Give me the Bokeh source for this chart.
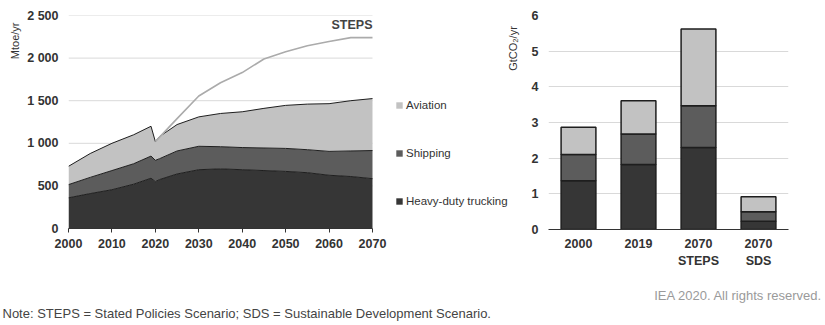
import math
from bokeh.plotting import figure
from bokeh.layouts import column, row
from bokeh.models import (ColumnDataSource, Label, Legend, LegendItem, FixedTicker,
                          FactorRange, Range1d, Title)
from bokeh.embed import file_html
from bokeh.resources import INLINE

# ---------------- data ----------------
years = [2000, 2005, 2010, 2015, 2019, 2020, 2021, 2025, 2030, 2035, 2040,
         2045, 2050, 2055, 2060, 2065, 2070]
trucking = [360, 410, 455, 520, 590, 550, 575, 640, 690, 700, 690, 680, 670, 655, 625, 610, 585]
shipping = [155, 190, 225, 240, 260, 250, 245, 270, 275, 260, 260, 265, 270, 270, 280, 300, 330]
aviation = [215, 280, 320, 340, 350, 220, 260, 310, 345, 390, 420, 465, 505, 535, 560, 590, 610]

steps_years = [2020, 2025, 2030, 2035, 2040, 2045, 2050, 2055, 2060, 2065, 2070]
steps_total = [1020, 1290, 1555, 1710, 1830, 1990, 2075, 2145, 2195, 2240, 2240]

y_ticks_left = [0, 500, 1000, 1500, 2000, 2500]
y_tick_labels_left = ["0", "500", "1 000", "1 500", "2 000", "2 500"]
x_ticks_left = [2000, 2010, 2020, 2030, 2040, 2050, 2060, 2070]

bar_years = ["2000", "2019", "2070", "2070"]
bar_scen = ["", "", "STEPS", "SDS"]
bar_trucking = [1.37, 1.82, 2.30, 0.23]
bar_shipping = [0.73, 0.86, 1.17, 0.27]
bar_aviation = [0.77, 0.93, 2.15, 0.42]
y_ticks_right = [0, 1, 2, 3, 4, 5, 6]

# ---------------- style ----------------
FONT = "Liberation Sans"
C_TRUCK = "#363636"
C_SHIP = "#5c5c5c"
C_AVI = "#c2c2c2"
C_EDGE = "#1e1e1e"
C_GRID = "#d9d9d9"
C_TEXT = "#333333"

# ---------------- left chart ----------------
src = ColumnDataSource(dict(year=years, truck=trucking, ship=shipping, avi=aviation))
cum1 = trucking
cum2 = [a + b for a, b in zip(trucking, shipping)]
cum3 = [a + b + c for a, b, c in zip(trucking, shipping, aviation)]
src_lines = ColumnDataSource(dict(year=years, c1=cum1, c2=cum2, c3=cum3))

# the frame extends to the right of 2070 so that legend / unit label can sit inside it
FW = 457
x_end = years[0] + (years[-1] - years[0]) * FW / 304
left = figure(frame_width=FW, frame_height=213, min_border_left=68, min_border_right=0,
              min_border_top=13, min_border_bottom=59,
              x_range=Range1d(years[0], x_end), y_range=Range1d(0, 2500),
              output_backend="svg", toolbar_location=None)
left.outline_line_color = None

left.segment(x0=years[0], x1=years[-1], y0=y_ticks_left, y1=y_ticks_left,
             line_color=C_GRID, line_width=1)
areas = left.varea_stack(["truck", "ship", "avi"], x="year", source=src,
                         fill_color=[C_TRUCK, C_SHIP, C_AVI])
for col in ["c1", "c2", "c3"]:
    left.line("year", col, source=src_lines, line_color=C_EDGE, line_width=1)
left.line(steps_years, steps_total, line_color="#ababab", line_width=1.6)

left.grid.grid_line_color = None
left.yaxis.ticker = FixedTicker(ticks=y_ticks_left)
left.yaxis.major_label_overrides = {t: l for t, l in zip(y_ticks_left, y_tick_labels_left)}
left.yaxis.axis_line_color = None
left.yaxis.major_tick_line_color = None
left.yaxis.major_tick_out = 0
left.yaxis.minor_tick_line_color = None
left.xaxis.ticker = FixedTicker(ticks=x_ticks_left)
left.xaxis.bounds = (years[0], years[-1])
left.xaxis.axis_line_color = "#333333"
left.xaxis.major_tick_line_color = "#333333"
left.xaxis.major_tick_in = 0
left.xaxis.major_tick_out = 4
left.xaxis.minor_tick_line_color = None
for ax in (left.xaxis[0], left.yaxis[0]):
    ax.major_label_text_font = FONT
    ax.major_label_text_font_size = "12.5px"
    ax.major_label_text_color = C_TEXT
    ax.major_label_text_font_style = "bold"
left.yaxis.major_label_standoff = 10
left.xaxis.major_label_standoff = 6

left.add_layout(Title(text="Mtoe/yr", align="right", offset=7, standoff=7,
                      text_font=FONT, text_font_size="11px", text_font_style="normal",
                      text_color=C_TEXT), "left")
left.add_layout(Label(x=years[-1], y=2383, text="STEPS", text_align="right",
                      text_baseline="middle", text_font=FONT, text_font_size="12.5px",
                      text_font_style="bold", text_color="#444444"))
# unit label of the right-hand chart (sits in the gap between the two charts)
left.add_layout(Label(x=years[0] + (512 - 68) * 70 / 304, y=2113, text="GtCO\u2082/yr",
                      angle=math.pi / 2, text_align="center", text_baseline="middle",
                      text_font=FONT, text_font_size="11px", text_color=C_TEXT))

legend = Legend(items=[LegendItem(label="Aviation", renderers=[areas[2]]),
                       LegendItem(label="Shipping", renderers=[areas[1]]),
                       LegendItem(label="Heavy-duty trucking", renderers=[areas[0]])],
                location=(327, 20), margin=0, padding=0, spacing=34,
                label_height=14, glyph_height=8, glyph_width=8, label_standoff=3,
                label_text_font=FONT, label_text_font_size="11.5px",
                label_text_color=C_TEXT, border_line_color=None,
                background_fill_alpha=0)
left.add_layout(legend, "center")

# ---------------- right chart ----------------
factors = list(zip(bar_scen, bar_years))
bsrc = ColumnDataSource(dict(cat=factors, truck=bar_trucking, ship=bar_shipping,
                             avi=bar_aviation))
right = figure(frame_width=240, frame_height=214, min_border_left=23, min_border_right=37,
               min_border_top=15, min_border_bottom=56,
               x_range=FactorRange(*factors, range_padding=0, group_padding=0),
               y_range=Range1d(0, 6),
               output_backend="svg", toolbar_location=None)
right.outline_line_color = None
right.vbar_stack(["truck", "ship", "avi"], x="cat", width=0.58, source=bsrc,
                 fill_color=[C_TRUCK, C_SHIP, C_AVI], line_color=C_EDGE, line_width=1.5)
right.xgrid.grid_line_color = None
right.ygrid.grid_line_color = C_GRID
right.ygrid.level = "underlay"
right.yaxis.ticker = FixedTicker(ticks=y_ticks_right)
right.yaxis.axis_line_color = None
right.yaxis.major_tick_line_color = None
right.yaxis.major_tick_out = 0
right.yaxis.minor_tick_line_color = None
right.xaxis.axis_line_color = "#333333"
right.xaxis.major_tick_line_color = None
right.xaxis.separator_line_color = None
right.xaxis.group_text_font = FONT
right.xaxis.group_text_font_size = "12.5px"
right.xaxis.group_text_font_style = "bold"
right.xaxis.group_text_color = C_TEXT
for ax in (right.xaxis[0], right.yaxis[0]):
    ax.major_label_text_font = FONT
    ax.major_label_text_font_size = "12.5px"
    ax.major_label_text_color = C_TEXT
    ax.major_label_text_font_style = "bold"
right.yaxis.major_label_standoff = 10
right.xaxis.major_label_standoff = 3

# ---------------- footer ----------------
note = figure(width=825, height=40, x_range=Range1d(0, 825), y_range=Range1d(0, 40),
              min_border=0, output_backend="svg", toolbar_location=None)
note.axis.visible = False
note.grid.visible = False
note.outline_line_color = None
note.add_layout(Label(x=822, y=30, text="IEA 2020. All rights reserved.",
                      text_align="right", text_baseline="middle", text_font=FONT,
                      text_font_size="13px", text_color="#9a9a9a"))
note.add_layout(Label(x=2, y=12, text="Note: STEPS = Stated Policies Scenario; SDS = Sustainable Development Scenario.",
                      text_align="left", text_baseline="middle", text_font=FONT,
                      text_font_size="13px", text_color="#444444"))

layout = column(row(left, right, spacing=0), note, spacing=0)
open("out.html", "w").write(file_html(layout, INLINE))
